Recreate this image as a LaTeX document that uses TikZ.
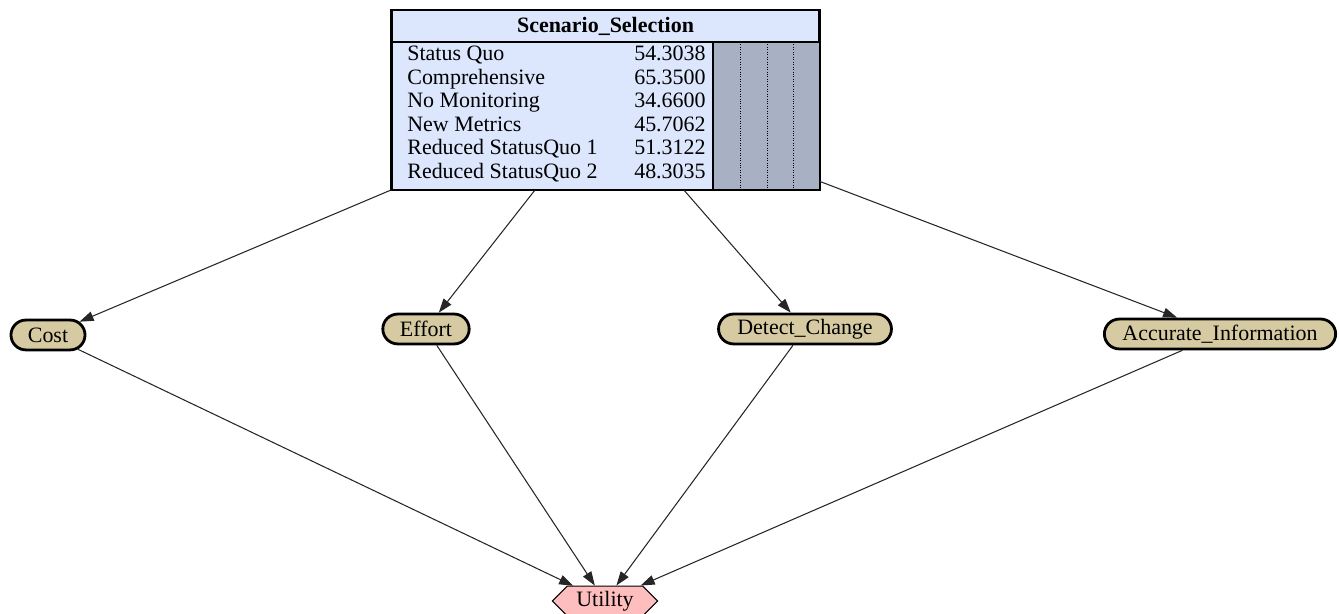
\documentclass[tikz,border=0pt]{standalone}
\usepackage{fontspec}
\setmainfont{Liberation Serif}
\usepackage{xcolor}
\usepackage{tikz}
\usetikzlibrary{arrows.meta, positioning, shapes.misc, shapes.symbols}

\definecolor{selblue}{RGB}{220,230,252}
\definecolor{selgray}{RGB}{168,176,196}
\definecolor{chancetan}{RGB}{214,202,162}
\definecolor{utilpink}{RGB}{255,190,190}

\begin{document}
\begin{tikzpicture}[x=0.02cm, y=0.02cm, >={Triangle[length=8pt, width=5.5pt]},
        every node/.style={font=\fontsize{12.5}{13}\selectfont},
        table/.style={rectangle, draw, line width=0.7pt, fill=selblue, minimum width=243pt, minimum height=102pt, inner sep=0pt},
        chance/.style={rounded rectangle, draw, line width=1.6pt, fill=chancetan, minimum height=17pt, inner xsep=8.5pt, inner ysep=0pt},
        utilnode/.style={signal, signal to=west and east, signal pointer angle=90, draw, line width=0.6pt, fill=utilpink, minimum height=17pt, minimum width=60pt, inner ysep=0pt},
        stlabel/.style={anchor=mid west, inner sep=0pt},
        belief/.style={anchor=mid east, inner sep=0pt},
        link/.style={->, line width=0.6pt, black!85}]

        \useasboundingbox (0,0) rectangle (1339,614);

        % decision table
        \node (sel) [table] at (605.5,514) {};
        \draw[line width=0.7pt, fill=selgray] (713,572) rectangle (820,424);
        \foreach \x in {740,767,793}
            \draw[densely dotted, line width=0.4pt] (\x,572) -- (\x,424);
        \draw[line width=0.7pt] (391,572) -- (820,572);
        \draw[line width=0.7pt] (391,424) rectangle (820,604);
        \node (seltitle) [font=\fontsize{12.5}{13}\selectfont\bfseries] at (605.5,588) {Scenario\_Selection};
        \foreach \st/\val [count=\i from 0] in {Status Quo/54.3038, Comprehensive/65.3500, No Monitoring/34.6600,
                New Metrics/45.7062, Reduced StatusQuo 1/51.3122, Reduced StatusQuo 2/48.3035} {
            \node (st\i) [stlabel] at (407,557.3-23.5*\i) {\st};
            \node (bel\i) [belief] at (706,557.3-23.5*\i) {\val};
        }

        % chance nodes
        \node (cost) [chance] at (48,279) {Cost};
        \node (effort) [chance] at (426,285) {Effort};
        \node (detect) [chance] at (805,285) {Detect\_Change};
        \node (accurate) [chance] at (1220,280) {Accurate\_Information};

        % utility
        \node (utility) [utilnode] at (605,13) {Utility};

        \draw[link] (sel) -- (cost);
        \draw[link] (sel) -- (effort);
        \draw[link] (sel) -- (detect);
        \draw[link] (sel) -- (accurate);
        \draw[link] (cost) -- (utility);
        \draw[link] (effort) -- (utility);
        \draw[link] (detect) -- (utility);
        \draw[link] (accurate) -- (utility);
    \end{tikzpicture}
\end{document}
